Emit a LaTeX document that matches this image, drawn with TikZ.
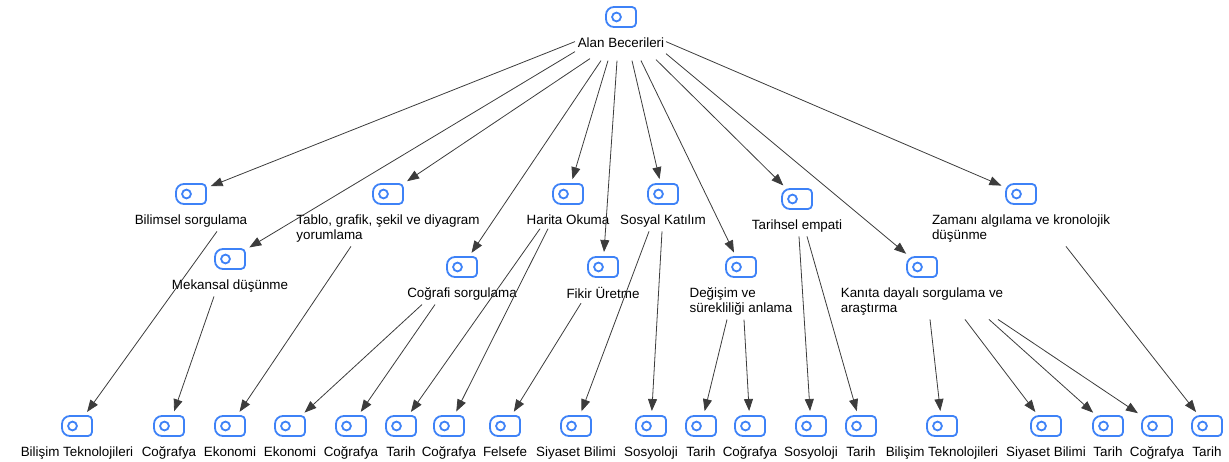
\documentclass[tikz,border=0pt]{standalone}
\usepackage{fontspec}
\setmainfont{Liberation Sans}
\usetikzlibrary{arrows.meta,positioning}
\definecolor{iconblue}{RGB}{62,130,247}
\definecolor{linegray}{RGB}{60,60,60}

\begin{document}
\begin{tikzpicture}[x=1pt,y=1pt,
    icon/.style={minimum width=30pt,minimum height=20pt,inner sep=0pt,outer sep=0pt},
    iconline/.style={draw=iconblue,line width=1.8pt},
    txt/.style={inner sep=4pt,align=left,font=\fontsize{13.4}{15}\selectfont,below=6.5pt of #1},
    arr/.style={draw=linegray,line width=0.8pt,-{Triangle[length=12pt,width=9pt]},shorten >=5pt}]
  \useasboundingbox (0,0) rectangle (1229,-462);
  %this draws the nodes
  \foreach \nm/\px/\py/\lbl in {root/621/17/Alan Becerileri,
      bilimsel/191/194/Bilimsel sorgulama, mekansal/230/259/Mekansal düşünme,
      tablo/388/194/{Tablo, grafik, şekil ve diyagram\\yorumlama},
      cografi/462/267/Coğrafi sorgulama, harita/568/194/Harita Okuma,
      fikir/603/267/Fikir Üretme, sosyal/663/194/Sosyal Katılım,
      degisim/741/267/{Değişim ve\\sürekliliği anlama}, empati/797/199/Tarihsel empati,
      kanit/922/267/{Kanıta dayalı sorgulama ve\\araştırma},
      zaman/1021/194/{Zamanı algılama ve kronolojik\\düşünme},
      d1/77/426/Bilişim Teknolojileri, d2/169/426/Coğrafya, d3/230/426/Ekonomi,
      d4/290/426/Ekonomi, d5/351/426/Coğrafya, d6/401/426/Tarih, d7/449/426/Coğrafya,
      d8/505/426/Felsefe, d9/576/426/Siyaset Bilimi, d10/651/426/Sosyoloji,
      d11/701/426/Tarih, d12/750/426/Coğrafya, d13/811/426/Sosyoloji, d14/861/426/Tarih,
      d15/942/426/Bilişim Teknolojileri, d16/1046/426/Siyaset Bilimi, d17/1108/426/Tarih,
      d18/1157/426/Coğrafya, d19/1207/426/Tarih} {
    \node[icon] (\nm) at (\px,-\py) {};
    \node[txt=\nm] (\nm-t) {\lbl};
    \draw[iconline] ([xshift=8pt]\nm.north west) -- ([xshift=-4pt]\nm.north east)
      arc[start angle=90,end angle=0,radius=4pt] -- ([yshift=4pt]\nm.south east)
      arc[start angle=0,end angle=-90,radius=4pt] -- ([xshift=8pt]\nm.south west)
      arc[start angle=270,end angle=180,radius=8pt] -- ([yshift=-8pt]\nm.north west)
      arc[start angle=180,end angle=90,radius=8pt] -- cycle;
    \draw[iconline] ([xshift=10.5pt]\nm.west) circle[radius=4.4pt];
  }
  %this draws the lines
  \foreach \c/\dx/\dy in {bilimsel/-46/1, mekansal/-46/-9, tablo/-31/-16, cografi/-20/-18,
      harita/-13/-18, fikir/-4/-18, sosyal/11/-18, degisim/20/-18, empati/35/-17,
      kanit/45/-11, zaman/45/1}
    \draw[arr] ([shift={(\dx,\dy)}]root-t.center) -- (\c);
  \foreach \p/\dx/\c in {bilimsel/26/d1, mekansal/-16/d2, tablo/-37/d3, cografi/-40/d4,
      cografi/-27/d5, harita/-28/d6, harita/-20/d7, fikir/-22/d8, sosyal/-14/d9,
      sosyal/-1/d10, degisim/-14/d11, degisim/3/d12, empati/2/d13, empati/10/d14,
      kanit/8/d15, kanit/43/d16, kanit/67/d17, kanit/76/d18, zaman/45/d19}
    \draw[arr] ([xshift=\dx pt]\p-t.south) -- (\c);
\end{tikzpicture}
\end{document}
